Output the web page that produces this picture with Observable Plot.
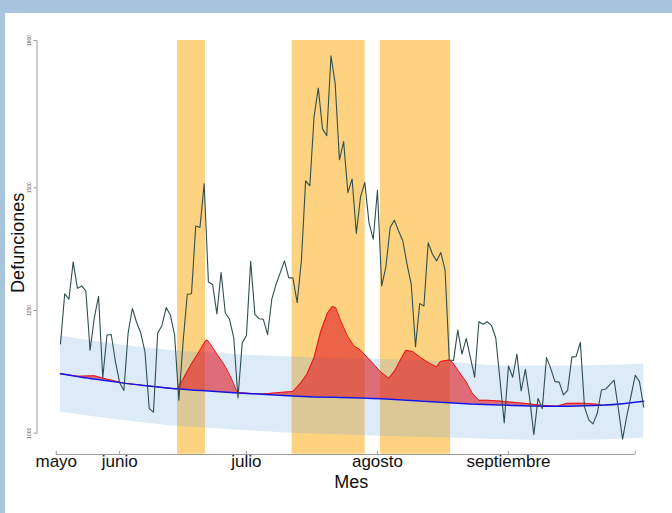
<!DOCTYPE html>
<html>
<head>
<meta charset="utf-8">
<script src="https://cdn.jsdelivr.net/npm/d3@7"></script>
<script src="https://cdn.jsdelivr.net/npm/@observablehq/plot@0.6"></script>
<style>
html, body { margin: 0; padding: 0; background: #ffffff; }
#wrap { position: relative; width: 672px; height: 513px; overflow: hidden; }
#chart { position: absolute; left: 0; top: 0; }
#chart svg { display: block; }
#topbar { position: absolute; left: 0; top: 0; width: 672px; height: 13px; background: #a7c4dc; }
#leftbar { position: absolute; left: 0; top: 0; width: 5px; height: 513px; background: #a7c4dc; }
</style>
</head>
<body>
<div id="wrap"><div id="chart"></div><div id="topbar"></div><div id="leftbar"></div></div>
<script>
// Daily deaths (day 0 = first day of the series, mid-May)
const deaths = [
  1182, 1284, 1273, 1349, 1295, 1300, 1290, 1169, 1235, 1279,
  1113, 1200, 1201, 1146, 1103, 1087, 1204, 1254, 1226, 1204,
  1165, 1050, 1043, 1204, 1219, 1256, 1241, 1200, 1067, 1185,
  1283, 1284, 1422, 1419, 1508, 1308, 1303, 1243, 1328, 1245,
  1232, 1194, 1072, 1184, 1199, 1350, 1242, 1233, 1232, 1201,
  1273, 1303, 1327, 1351, 1317, 1316, 1266, 1351, 1514, 1504,
  1645, 1703, 1620, 1606, 1769, 1712, 1557, 1594, 1490, 1518,
  1407, 1482, 1511, 1429, 1395, 1495, 1300, 1339, 1419, 1434,
  1412, 1392, 1344, 1303, 1176, 1264, 1259, 1388, 1365, 1351,
  1368, 1332, 1149, 1148, 1210, 1161, 1193, 1154, 1114, 1227,
  1222, 1227, 1219, 1194, 1108, 1021, 1137, 1114, 1161, 1086,
  1130, 1072, 997, 1071, 1050, 1154, 1132, 1105, 1104, 1078,
  1087, 1155, 1156, 1185, 1053, 1027, 1019, 1040, 1088, 1090,
  1099, 1108, 1050, 988, 1035, 1076, 1118, 1105, 1053
];

// Heat-wave periods (day indices)
const waveStart = [27.7, 54.8, 75.7];
const waveEnd = [34.3, 72.1, 92.3];

// Expected deaths (baseline) and its confidence band
const baseDays   = [0, 5, 10, 15, 20, 28, 35, 42, 55, 65, 76, 92, 102, 114, 120, 128, 133, 138];
const baseValues = [1121, 1114, 1108, 1102, 1097, 1090, 1086, 1082, 1076, 1073, 1070, 1062, 1058, 1055, 1055, 1057, 1060, 1065];
const bandHigh   = [1198, 1191, 1185, 1179, 1174, 1167, 1164, 1160, 1155, 1152, 1150, 1145, 1138, 1137, 1137, 1138, 1139, 1141];
const bandLow    = [1043, 1037, 1031, 1026, 1021, 1014, 1010, 1006, 1000, 997, 994, 990, 987, 985, 985, 986, 988, 990];

// Smoothed observed deaths where above baseline (excess), with baseline at same days
const excessDays = [0, 4, 8, 12, 15, 20, 27.6, 29, 30.9, 32.5, 34.3, 34.7, 35.5, 37.1, 38.7, 40.2, 41.8,
  45, 48, 52, 55, 56.8, 58.3, 60, 61.6, 63.2, 64.3, 65.1, 66.3, 67.9, 69.4, 71, 73.4, 75.7, 77.7,
  79.1, 80.3, 81.7, 83.4, 85.2, 87.2, 89, 89.9, 91.9, 92.7, 94.3, 95.9, 97.4, 99, 101, 103.2,
  105.7, 109.6, 113.6, 117.5, 119.9, 123.8, 127, 128];
const excessTop = [1121, 1116, 1117, 1108, 1102, 1097, 1090, 1110, 1140, 1162, 1188, 1190, 1181, 1160, 1140, 1116, 1083,
  1081, 1080, 1083, 1085, 1102, 1120, 1154, 1208, 1245, 1258, 1256, 1229, 1198, 1178, 1169, 1147, 1125, 1112,
  1127, 1147, 1169, 1166, 1154, 1143, 1135, 1146, 1149, 1145, 1125, 1106, 1082, 1067, 1067, 1066,
  1064, 1061, 1057, 1055, 1061, 1061, 1059, 1057];
const excessBase = [1121, 1115, 1111, 1105.5, 1102, 1097, 1090, 1089, 1088, 1087.5, 1086.5, 1086, 1085.5, 1084.5, 1083.5, 1083, 1082,
  1081, 1079, 1077.5, 1076, 1075.5, 1075, 1074.5, 1074, 1073.5, 1073, 1073, 1073, 1072, 1072, 1071.5, 1071, 1070, 1069,
  1068.5, 1068, 1067.5, 1066.5, 1066, 1065, 1064, 1063.5, 1062, 1062, 1061, 1060.5, 1060, 1059, 1058, 1058,
  1057, 1056, 1055, 1055, 1055, 1056, 1057, 1057];

// Axis ticks
const monthTicks = [-1, 14, 44, 75, 106, 136];
const monthLabels = ["mayo", "junio", "julio", "agosto", "septiembre", ""];
const yTicks = [1000, 1250, 1500, 1800];

const series = deaths.map((v, i) => ({day: i, value: v}));
const base = baseDays.map((d, i) => ({day: d, value: baseValues[i], lo: bandLow[i], hi: bandHigh[i]}));
const excess = excessDays.map((d, i) => ({day: d, top: excessTop[i], base: excessBase[i]}));
const waves = waveStart.map((s, i) => ({x1: s, x2: waveEnd[i]}));

const chart = Plot.plot({
  width: 672,
  height: 513,
  marginTop: 40,
  marginBottom: 80.3,
  marginLeft: 36.5,
  marginRight: 28.8,
  x: {domain: [-5.56, 138], axis: null},
  y: {domain: [1000, 1800], axis: null},
  style: {fontFamily: "'Liberation Sans', Arial, sans-serif", background: "#ffffff"},
  marks: [
    Plot.rect(waves, {x1: "x1", x2: "x2", fill: "#fdd382", insetBottom: -21}),
    Plot.areaY(base, {x: "day", y1: "lo", y2: "hi", curve: "natural", fill: "rgb(100,165,225)", fillOpacity: 0.22}),
    Plot.areaY(excess, {x: "day", y1: "base", y2: "top", fill: "rgb(225,25,35)", fillOpacity: 0.6}),
    Plot.lineY(excess, {x: "day", y: "top", stroke: "#ee1111", strokeWidth: 1}),
    Plot.lineY(base, {x: "day", y: "value", curve: "natural", stroke: "#1414e6", strokeWidth: 1.5}),
    Plot.lineY(series, {x: "day", y: "value", stroke: "#2f4f4f", strokeWidth: 1.1}),
    Plot.frame({anchor: "left", stroke: "#9a9a9a"}),
    Plot.tickY(yTicks, {y: d => d, stroke: "#9a9a9a", insetLeft: -3, insetRight: 606.7}),
    Plot.text(yTicks, {y: d => d, text: d => String(d), frameAnchor: "left", dx: -6.5, rotate: -90,
      textAnchor: "middle", lineAnchor: "bottom", fontSize: 5, fill: "#555"}),
    Plot.ruleY([1000], {x1: monthTicks[0], x2: monthTicks[monthTicks.length - 1], dy: 21.3, stroke: "#9a9a9a"}),
    Plot.tickX(monthTicks, {x: d => d, stroke: "#9a9a9a", insetTop: 411, insetBottom: -21.3}),
    Plot.text(monthTicks, {x: d => d, text: (d, i) => monthLabels[i], frameAnchor: "bottom", dy: 21.5,
      lineAnchor: "top", fontSize: 17, fill: "#111"}),
    Plot.text(["Mes"], {text: d => d, frameAnchor: "bottom", dx: 11, dy: 54.3, lineAnchor: "bottom", fontSize: 18, fill: "#111"}),
    Plot.text(["Defunciones"], {text: d => d, frameAnchor: "left", dx: -13.5, dy: 6, rotate: -90,
      lineAnchor: "bottom", textAnchor: "middle", fontSize: 18, fill: "#111"})
  ]
});
document.getElementById("chart").appendChild(chart);
</script>
</body>
</html>
